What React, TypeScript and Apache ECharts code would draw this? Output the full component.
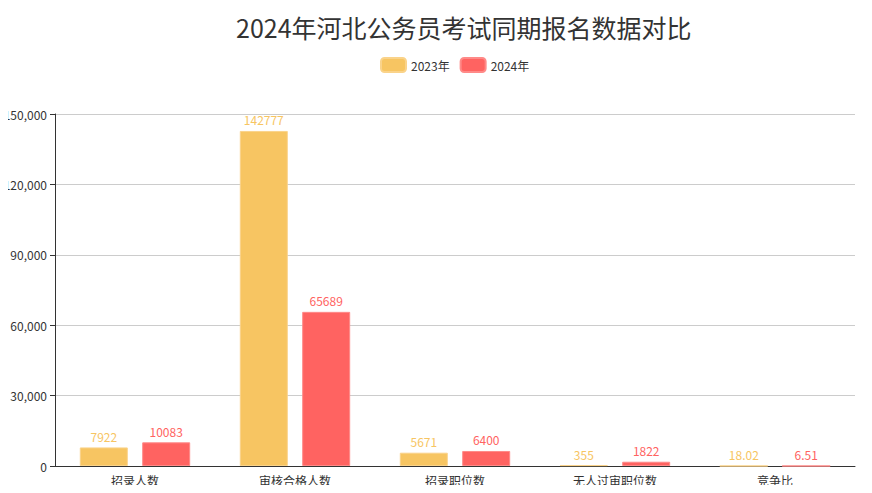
import React, { useEffect, useRef } from "react";
import * as echarts from "echarts";

const categories = ["招录人数", "审核合格人数", "招录职位数", "无人过审职位数", "竞争比"];
const values2023 = [7922, 142777, 5671, 355, 18.02];
const values2024 = [10083, 65689, 6400, 1822, 6.51];
const seriesNames = ["2023年", "2024年"];

export default function App() {
  const ref = useRef<HTMLDivElement>(null);
  useEffect(() => {
    const chart = echarts.init(ref.current!, null, { renderer: "svg" });
    const font = '"Noto Sans CJK SC", "Noto Sans", sans-serif';
    chart.setOption({
      animation: false,
      textStyle: { fontFamily: font },
      title: {
        text: "2024年河北公务员考试同期报名数据对比",
        left: 231,
        top: 9,
        textStyle: { fontSize: 25, fontWeight: "normal", color: "#333", fontFamily: font },
      },
      legend: {
        top: 52,
        left: 375,
        itemWidth: 25,
        itemHeight: 14,
        itemGap: 10,
        textStyle: { fontSize: 12, color: "#333" },
        data: seriesNames,
      },
      grid: { left: 55, right: 17, top: 114, bottom: 27, outerBoundsMode: "none" },
      xAxis: {
        type: "category",
        data: categories,
        axisLine: { lineStyle: { color: "#333" } },
        axisTick: { lineStyle: { color: "#333" } },
        axisLabel: { color: "#333", fontSize: 12, margin: 8 },
      },
      yAxis: {
        type: "value",
        min: 0,
        max: 150000,
        interval: 30000,
        axisLine: { show: true, lineStyle: { color: "#333" } },
        axisTick: { show: true, lineStyle: { color: "#333" } },
        axisLabel: { color: "#333", fontSize: 12, formatter: (v: number) => v.toLocaleString("en-US") },
        splitLine: { lineStyle: { color: "#ccc" } },
      },
      series: [
        {
          name: seriesNames[0],
          type: "bar",
          data: values2023,
          barWidth: "30%",
          barGap: "30%",
          itemStyle: { color: "#F7C562", borderColor: "#fad38a", borderWidth: 1 },
          label: { show: true, position: "top", color: "#F7C562", fontSize: 12 },
        },
        {
          name: seriesNames[1],
          type: "bar",
          data: values2024,
          barWidth: "30%",
          itemStyle: { color: "#FF6361", borderColor: "#ff8a88", borderWidth: 1 },
          label: { show: true, position: "top", color: "#FF6361", fontSize: 12 },
        },
      ],
    });
    return () => chart.dispose();
  }, []);
  return <div ref={ref} style={{ width: 872, height: 493, margin: -8 }} />;
}
